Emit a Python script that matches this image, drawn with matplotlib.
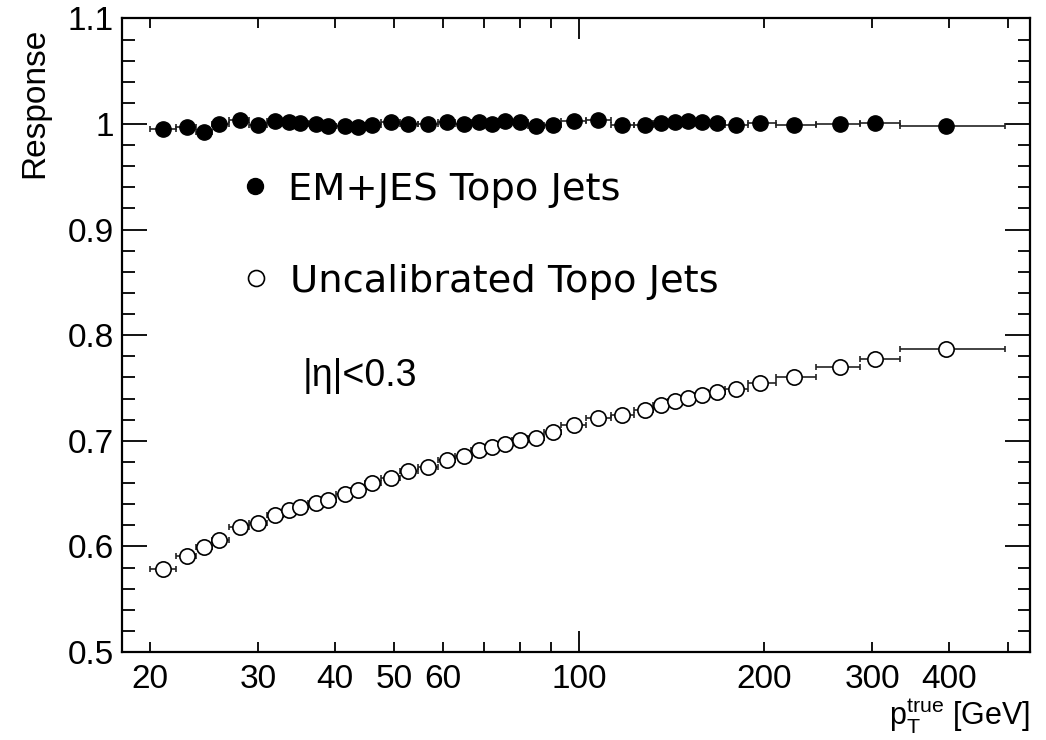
import numpy as np
import matplotlib
matplotlib.use("Agg")
import matplotlib.pyplot as plt
from matplotlib.ticker import FixedLocator, FixedFormatter, MultipleLocator

# ---------------- data ----------------
pt_edges = [20, 22, 23.8, 25.2, 26.9, 29, 31, 32.9, 34.4, 36.1, 38.1, 40.2, 42.5,
            44.8, 47.6, 51, 54.7, 58.8, 62.8, 66.7, 70.4, 74, 77.8, 82.5, 87.7,
            93.5, 102.4, 112.6, 122.9, 131.8, 139.4, 146.9, 154.4, 162.2, 173,
            188.6, 208.8, 243.1, 286.4, 332.8, 494]
pt_centers = [21.0, 23.0, 24.5, 25.9, 28.0, 30.0, 32.0, 33.7, 35.1, 37.2, 39.0,
              41.5, 43.6, 46.0, 49.3, 52.7, 56.8, 60.8, 64.8, 68.7, 72.2, 75.7,
              80.1, 85.0, 90.5, 98.2, 107.2, 117.5, 128, 135.8, 143.2, 150.6,
              158.3, 167.9, 179.8, 197, 224, 266, 303, 395]
resp_emjes = [0.9953, 0.9968, 0.9927, 1.0000, 1.0040, 0.9993, 1.0025, 1.0015,
              1.0010, 1.0000, 0.9984, 0.9977, 0.9975, 0.9990, 1.0015, 1.0000,
              1.0000, 1.0015, 1.0000, 1.0015, 1.0000, 1.0025, 1.0020, 0.9984,
              0.9990, 1.0030, 1.0038, 0.9990, 0.9990, 1.0010, 1.0020, 1.0025,
              1.0020, 1.0010, 0.9993, 1.0010, 0.9993, 1.0000, 1.0005, 0.9984]
resp_uncal = [0.579, 0.591, 0.599, 0.606, 0.618, 0.622, 0.630, 0.634, 0.637,
              0.641, 0.644, 0.650, 0.653, 0.660, 0.665, 0.671, 0.675, 0.682,
              0.686, 0.691, 0.694, 0.697, 0.701, 0.703, 0.708, 0.715, 0.722,
              0.724, 0.729, 0.734, 0.738, 0.741, 0.743, 0.746, 0.749, 0.755,
              0.760, 0.770, 0.777, 0.787]

x_major = [100]
x_minor = [20, 30, 40, 50, 60, 70, 80, 90, 200, 300, 400, 500]
x_ticklabels = ["20", "30", "40", "50", "60", "", "", "", "200", "300", "400", ""]
y_ticks = [0.5, 0.6, 0.7, 0.8, 0.9, 1.0, 1.1]
y_ticklabels = ["0.5", "0.6", "0.7", "0.8", "0.9", "1", "1.1"]

label_emjes = "EM+JES Topo Jets"
label_uncal = "Uncalibrated Topo Jets"
eta_text = "|η|<0.3"

# ---------------- plot ----------------
W, H = 1046, 740
fig = plt.figure(figsize=(W / 100, H / 100), dpi=100)
L, R, T, B = 122, 1030, 18.4, 652
ax = fig.add_axes([L / W, 1 - B / H, (R - L) / W, (B - T) / H])

centers = np.array(pt_centers)
edges = np.array(pt_edges)
xerr = np.vstack([centers - edges[:-1], edges[1:] - centers])

ecol = "#222222"
ax.errorbar(centers, resp_emjes, xerr=xerr, fmt="o", ms=11, mfc="black",
            mec="black", ecolor=ecol, elinewidth=1.2, capsize=2.4, capthick=1.2,
            zorder=3)
ax.errorbar(centers, resp_uncal, xerr=xerr, fmt="o", ms=11, mfc="white",
            mec="black", mew=1.2, ecolor=ecol, elinewidth=1.2, capsize=2.4,
            capthick=1.2, zorder=3)

ax.set_xscale("log")
ax.set_xlim(18.0, 542)
ax.set_ylim(0.5, 1.1)

tickfont = ["Liberation Sans", "DejaVu Sans"]
ax.xaxis.set_major_locator(FixedLocator(x_major))
ax.xaxis.set_major_formatter(FixedFormatter(["100"]))
ax.xaxis.set_minor_locator(FixedLocator(x_minor))
ax.xaxis.set_minor_formatter(FixedFormatter(x_ticklabels))
ax.yaxis.set_major_locator(FixedLocator(y_ticks))
ax.yaxis.set_major_formatter(FixedFormatter(y_ticklabels))
ax.yaxis.set_minor_locator(MultipleLocator(0.02))

ax.tick_params(axis="both", which="both", direction="in", top=True, right=True,
               width=1.3, color="black")
ax.tick_params(axis="y", which="major", length=18, pad=6)
ax.tick_params(axis="y", which="minor", length=9)
ax.tick_params(axis="x", which="major", length=15, pad=9)
ax.tick_params(axis="x", which="minor", length=7.5, pad=9)

for lab in ax.get_xticklabels(which="both"):
    lab.set_family(tickfont)
    lab.set_fontsize(24)
for lab in ax.get_yticklabels():
    lab.set_family(tickfont)
    lab.set_fontsize(24)

for sp in ax.spines.values():
    sp.set_linewidth(1.6)

# axis titles
fig.text(35 / W, 1 - 28 / H, "Response", rotation=90, ha="center", va="top",
         fontsize=24, family=tickfont)
plt.rcParams["mathtext.fontset"] = "custom"
plt.rcParams["mathtext.rm"] = "Liberation Sans"
plt.rcParams["mathtext.it"] = "Liberation Sans"
fig.text(R / W, 1 - 726 / H, r"$\mathrm{p}_{\mathrm{T}}^{\mathrm{true}}$ [GeV]",
         ha="right", va="baseline", fontsize=22, family=tickfont)

# legend-like annotations (figure coordinates)
fig.lines.append(plt.Line2D([255 / W], [1 - 186 / H], marker="o", ms=11.5,
                            mfc="black", mec="black", linestyle="none",
                            transform=fig.transFigure, figure=fig))
fig.lines.append(plt.Line2D([256 / W], [1 - 278 / H], marker="o", ms=11.5,
                            mfc="white", mec="black", mew=1.2, linestyle="none",
                            transform=fig.transFigure, figure=fig))
fig.text(288 / W, 1 - 186 / H, label_emjes, ha="left", va="center_baseline",
         fontsize=27.7, family=["DejaVu Sans"])
fig.text(290 / W, 1 - 278 / H, label_uncal, ha="left", va="center_baseline",
         fontsize=27.7, family=["DejaVu Sans"])
fig.text(303 / W, 1 - 372 / H, eta_text, ha="left", va="center_baseline",
         fontsize=27, family=tickfont)

fig.savefig("out.png", dpi=100, facecolor="white")
